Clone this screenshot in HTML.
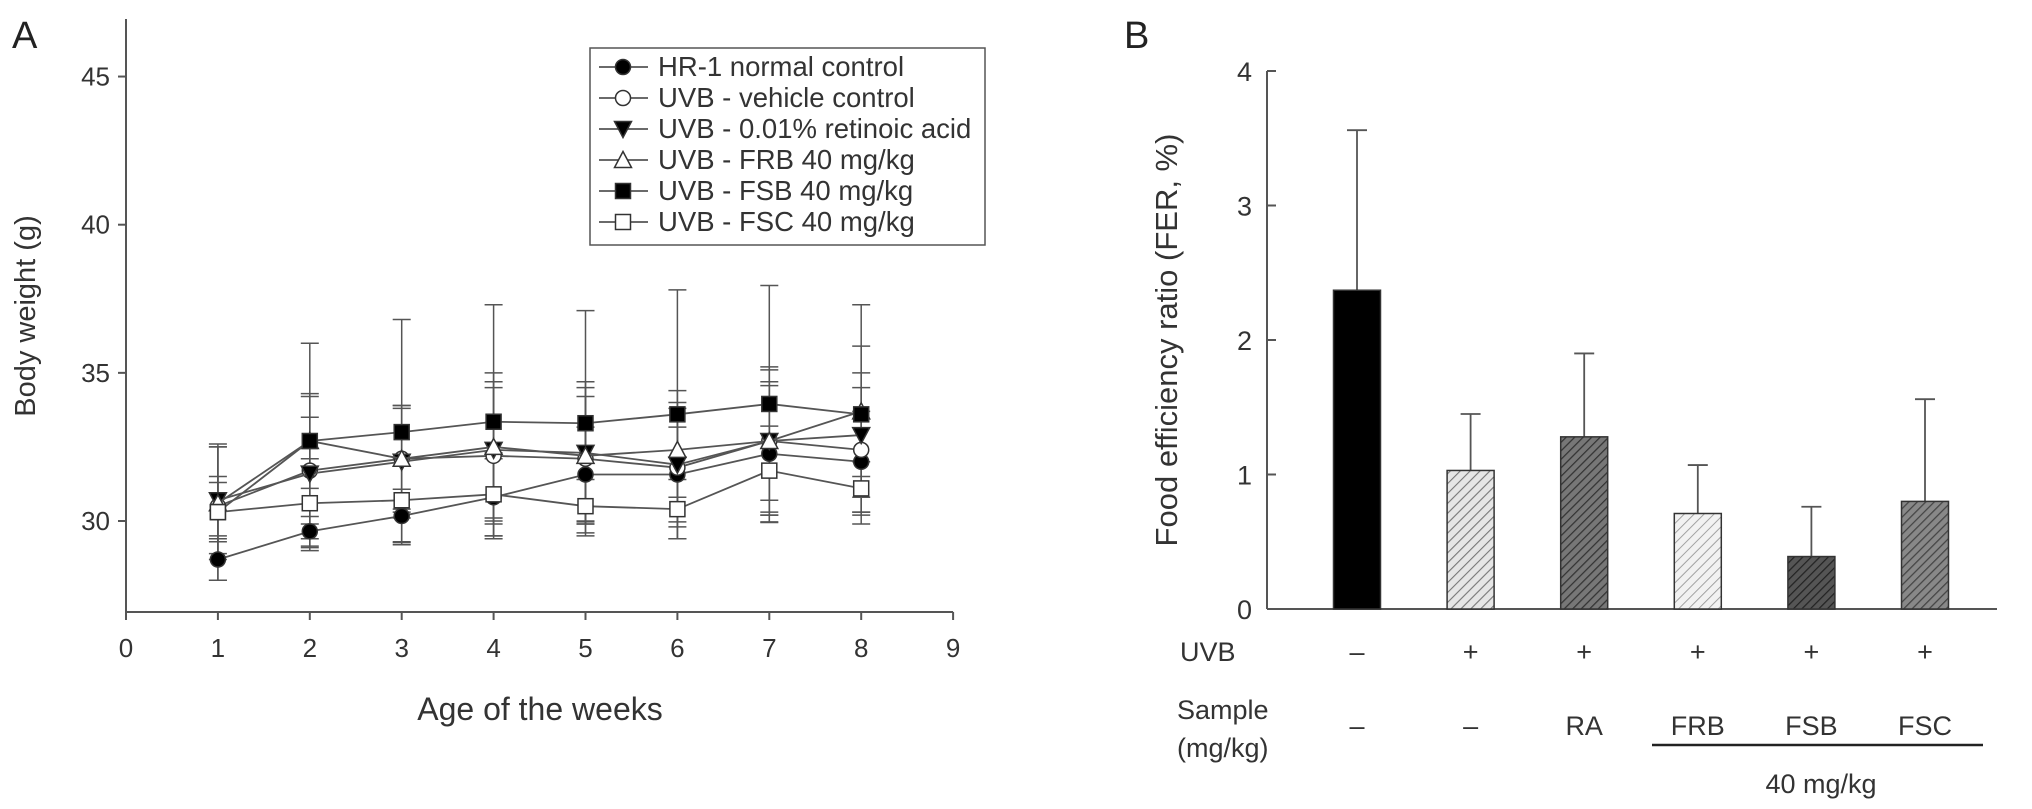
<!DOCTYPE html>
<html><head><meta charset="utf-8"><style>
html,body{margin:0;padding:0;background:#fff;}
svg{display:block;font-family:"Liberation Sans",sans-serif;}
</style></head><body>
<svg id="fig" width="2032" height="809" viewBox="0 0 2032 809">
<defs>
<pattern id="h1" patternUnits="userSpaceOnUse" width="7" height="7" patternTransform="rotate(45)"><rect width="7" height="7" fill="#e6e6e6"/><line x1="0" y1="0" x2="0" y2="7" stroke="#777" stroke-width="2.2"/></pattern>
<pattern id="h2" patternUnits="userSpaceOnUse" width="6" height="6" patternTransform="rotate(45)"><rect width="6" height="6" fill="#777"/><line x1="0" y1="0" x2="0" y2="6" stroke="#333" stroke-width="2.5"/></pattern>
<pattern id="h3" patternUnits="userSpaceOnUse" width="7" height="7" patternTransform="rotate(45)"><rect width="7" height="7" fill="#f2f2f2"/><line x1="0" y1="0" x2="0" y2="7" stroke="#999" stroke-width="1.8"/></pattern>
<pattern id="h4" patternUnits="userSpaceOnUse" width="6" height="6" patternTransform="rotate(45)"><rect width="6" height="6" fill="#555"/><line x1="0" y1="0" x2="0" y2="6" stroke="#222" stroke-width="2.5"/></pattern>
<pattern id="h5" patternUnits="userSpaceOnUse" width="6" height="6" patternTransform="rotate(45)"><rect width="6" height="6" fill="#888"/><line x1="0" y1="0" x2="0" y2="6" stroke="#444" stroke-width="2.5"/></pattern>
</defs>
<g id="pa"></g>
<g id="pb"></g>
</svg>
<script>
const weeks=[1,2,3,4,5,6,7,8];
const seriesNames=["HR-1 normal control","UVB - vehicle control","UVB - 0.01% retinoic acid","UVB - FRB 40 mg/kg","UVB - FSB 40 mg/kg","UVB - FSC 40 mg/kg"];
const seriesMarkers=["circle-filled","circle-open","tri-down-filled","tri-up-open","square-filled","square-open"];
const hr1=[28.7,29.65,30.17,30.8,31.57,31.57,32.27,32.0];
const hr1Err=[0.7,0.5,0.9,1.3,1.6,1.6,2.3,1.7];
const vehicle=[30.5,31.7,32.1,32.2,32.1,31.8,32.7,32.4];
const vehicleErr=[1.0,1.8,1.8,2.3,2.1,2.0,2.4,2.1];
const retinoic=[30.7,31.6,32.0,32.4,32.3,31.9,32.7,32.9];
const retinoicErr=[1.8,2.6,1.9,2.3,2.4,2.5,2.5,2.1];
const frb=[30.6,32.7,32.1,32.5,32.2,32.4,32.7,33.7];
const frbErr=[1.9,1.6,1.7,2.5,2.3,1.6,2.0,2.2];
const fsb=[30.3,32.7,33.0,33.35,33.3,33.6,33.95,33.6];
const fsbErr=[2.3,3.3,3.8,3.95,3.8,4.2,4.0,3.7];
const fsc=[30.3,30.6,30.7,30.9,30.5,30.4,31.7,31.1];
const fscErr=[1.0,1.5,1.4,1.4,0.9,1.0,1.5,0.9];
const xTicksA=[0,1,2,3,4,5,6,7,8,9];
const yTicksA=[30,35,40,45];

const barCats=["–","–","RA","FRB","FSB","FSC"];
const uvbLabels=["–","+","+","+","+","+"];
const ferValues=[2.37,1.03,1.28,0.71,0.39,0.80];
const ferErr=[1.19,0.42,0.62,0.36,0.37,0.76];
const yTicksB=[0,1,2,3,4];

const NS="http://www.w3.org/2000/svg";
function mk(parent,tag,attrs,text){const e=document.createElementNS(NS,tag);for(const k in attrs)e.setAttribute(k,attrs[k]);if(text!==undefined)e.textContent=text;parent.appendChild(e);return e;}

// Panel A
const pa=document.getElementById('pa');
const XA=v=>126+v*91.9;
const YA=v=>521-(v-30)*29.63;
let e;
e=mk(pa,'text',{x:12,y:48,'font-size':38,fill:'#222'},'A');


e=mk(pa,'line',{x1:126,y1:19,x2:126,y2:612,stroke:'#555','stroke-width':2});


e=mk(pa,'line',{x1:126,y1:612,x2:XA(9),y2:612,stroke:'#555','stroke-width':2});


yTicksA.forEach(t=>{mk(pa,'line',{x1:118,y1:YA(t),x2:126,y2:YA(t),stroke:'#555','stroke-width':2});
 e=mk(pa,'text',{x:110,y:YA(t)+9,'font-size':26,'text-anchor':'end',fill:'#333'},String(t));
 
 });
xTicksA.forEach(t=>{mk(pa,'line',{x1:XA(t),y1:612,x2:XA(t),y2:620,stroke:'#555','stroke-width':2});
 e=mk(pa,'text',{x:XA(t),y:657,'font-size':26,'text-anchor':'middle',fill:'#333'},String(t));
 
 });
e=mk(pa,'text',{x:540,y:720,'font-size':32,'text-anchor':'middle',fill:'#333'},'Age of the weeks');


e=mk(pa,'text',{x:0,y:0,'font-size':29,'text-anchor':'middle',fill:'#333',transform:'translate(35,316) rotate(-90)'},'Body weight (g)');



function marker(g,type,x,y){
 const s=7.5;
 if(type.startsWith('circle'))return mk(g,'circle',{cx:x,cy:y,r:s,fill:type.endsWith('filled')?'#000':'#fff',stroke:'#333','stroke-width':1.5});
 if(type.startsWith('square'))return mk(g,'rect',{x:x-s,y:y-s,width:2*s,height:2*s,fill:type.endsWith('filled')?'#000':'#fff',stroke:'#333','stroke-width':1.5});
 if(type==='tri-down-filled')return mk(g,'polygon',{points:`${x-s-1},${y-s} ${x+s+1},${y-s} ${x},${y+s+1}`,fill:'#000',stroke:'#333','stroke-width':1.5});
 return mk(g,'polygon',{points:`${x-s-1},${y+s} ${x+s+1},${y+s} ${x},${y-s-1}`,fill:'#fff',stroke:'#333','stroke-width':1.5});
}
const allSeries=[hr1,vehicle,retinoic,frb,fsb,fsc];
const allErr=[hr1Err,vehicleErr,retinoicErr,frbErr,fsbErr,fscErr];
const keys=['hr1','vehicle','retinoic','frb','fsb','fsc'];
allSeries.forEach((s,i)=>{const g=mk(pa,'g',{});
 
 
 s.forEach((v,j)=>{const x=XA(weeks[j]),lo=YA(v-allErr[i][j]),hi=YA(v+allErr[i][j]);
  mk(g,'line',{x1:x,y1:lo,x2:x,y2:hi,stroke:'#555','stroke-width':1.5});
  mk(g,'line',{x1:x-9,y1:lo,x2:x+9,y2:lo,stroke:'#555','stroke-width':1.5});
  mk(g,'line',{x1:x-9,y1:hi,x2:x+9,y2:hi,stroke:'#555','stroke-width':1.5});});});
allSeries.forEach((s,i)=>{const g=mk(pa,'g',{});
 
 
 e=mk(g,'polyline',{points:s.map((v,j)=>XA(weeks[j])+','+YA(v)).join(' '),fill:'none',stroke:'#555','stroke-width':1.8});
 
 
 s.forEach((v,j)=>{e=marker(g,seriesMarkers[i],XA(weeks[j]),YA(v));
  
  });});
const lg=mk(pa,'g',{});


mk(lg,'rect',{x:590,y:48,width:395,height:197,fill:'#fff',stroke:'#555','stroke-width':1.5});
seriesNames.forEach((n,i)=>{const y=67+i*31;const g=mk(lg,'g',{});
 
 
 mk(g,'line',{x1:599,y1:y,x2:648,y2:y,stroke:'#555','stroke-width':1.8});
 marker(g,seriesMarkers[i],623,y);
 mk(g,'text',{x:658,y:y+9,'font-size':27.5,fill:'#333'},n);});

// Panel B
const pb=document.getElementById('pb');
const XB=i=>1357+i*113.6;
const YB=v=>609-v*134.5;
e=mk(pb,'text',{x:1124,y:48,'font-size':38,fill:'#222'},'B');


e=mk(pb,'line',{x1:1267,y1:YB(4),x2:1267,y2:609,stroke:'#555','stroke-width':2});


e=mk(pb,'line',{x1:1267,y1:609,x2:1997,y2:609,stroke:'#555','stroke-width':2});


yTicksB.forEach(t=>{mk(pb,'line',{x1:1267,y1:YB(t),x2:1276,y2:YB(t),stroke:'#555','stroke-width':2});
 e=mk(pb,'text',{x:1252,y:YB(t)+10,'font-size':27,'text-anchor':'end',fill:'#333'},String(t));
 
 });
e=mk(pb,'text',{x:0,y:0,'font-size':31,'text-anchor':'middle',fill:'#333',transform:'translate(1177,340) rotate(-90)'},'Food efficiency ratio (FER, %)');


const fills=['#000','url(#h1)','url(#h2)','url(#h3)','url(#h4)','url(#h5)'];
ferValues.forEach((v,i)=>{const x=XB(i);
 e=mk(pb,'line',{x1:x,y1:YB(v),x2:x,y2:YB(v+ferErr[i]),stroke:'#555','stroke-width':1.8});
 
 
 mk(pb,'line',{x1:x-10,y1:YB(v+ferErr[i]),x2:x+10,y2:YB(v+ferErr[i]),stroke:'#555','stroke-width':1.8});
 e=mk(pb,'rect',{x:x-23.5,y:YB(v),width:47,height:YB(0)-YB(v),fill:fills[i],stroke:'#333','stroke-width':1.5});
 
 
 e=mk(pb,'text',{x:x,y:661,'font-size':27,'text-anchor':'middle',fill:'#333'},uvbLabels[i]);
 
 
 e=mk(pb,'text',{x:x,y:735,'font-size':27,'text-anchor':'middle',fill:'#333'},barCats[i]);
 
 });
e=mk(pb,'text',{x:1180,y:661,'font-size':27,fill:'#333'},'UVB');


e=mk(pb,'text',{x:1177,y:719,'font-size':27,fill:'#333'},'Sample');


mk(pb,'text',{x:1177,y:757,'font-size':27,fill:'#333'},'(mg/kg)');
e=mk(pb,'line',{x1:1652,y1:745,x2:1983,y2:745,stroke:'#222','stroke-width':2.5});


e=mk(pb,'text',{x:1821,y:793,'font-size':27,'text-anchor':'middle',fill:'#333'},'40 mg/kg');


</script>
</body></html>
